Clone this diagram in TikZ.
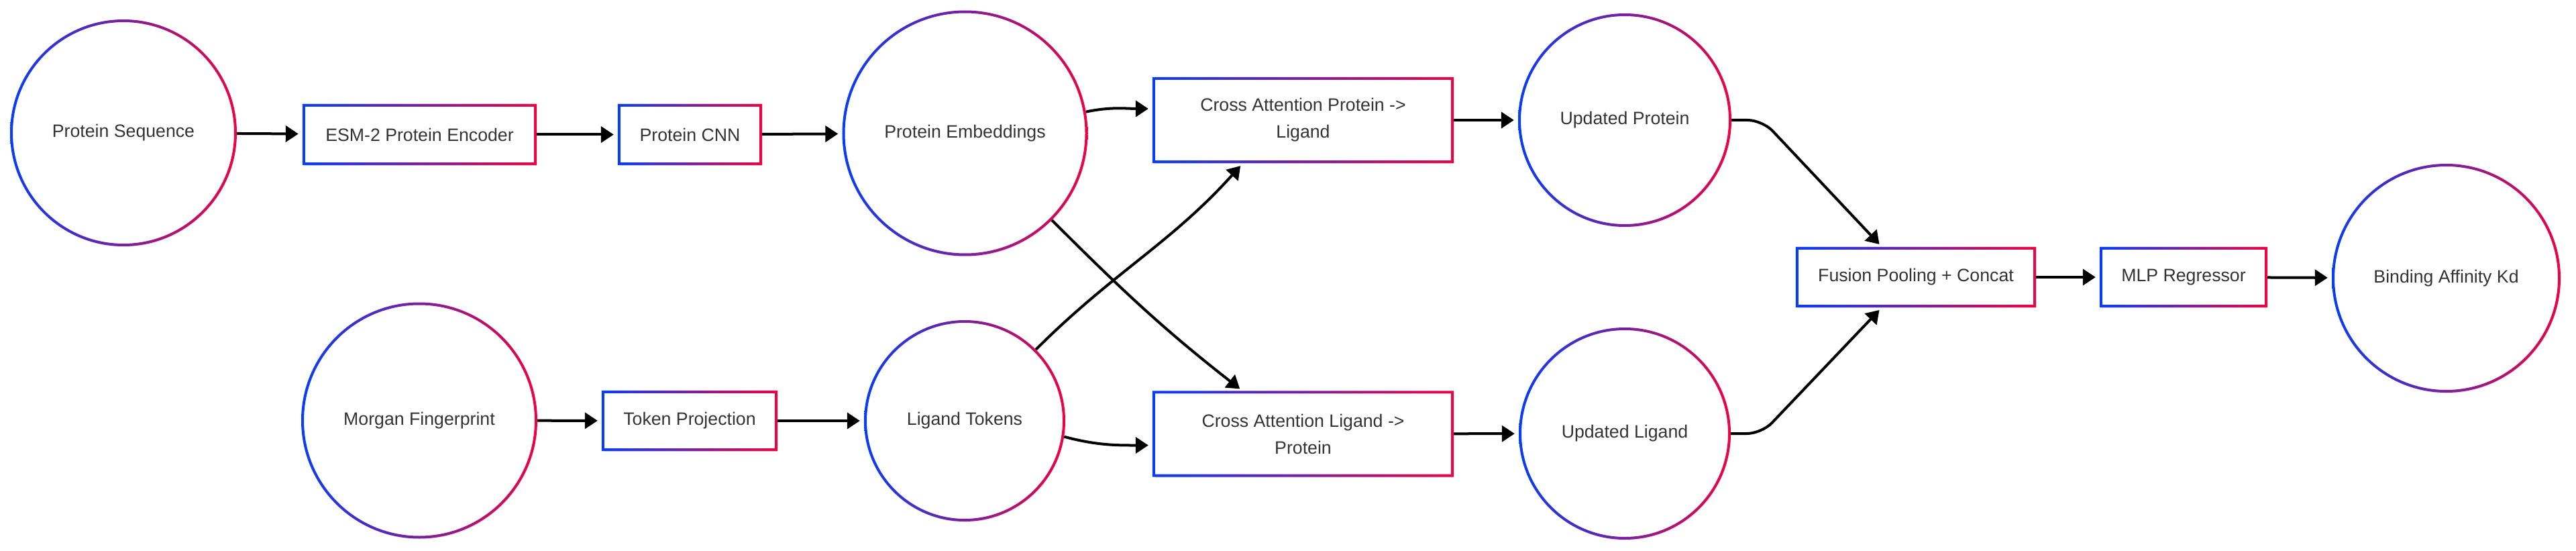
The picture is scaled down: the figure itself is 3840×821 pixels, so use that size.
\documentclass[tikz,border=0pt]{standalone}
\usepackage{fontspec}
\setmainfont{Liberation Sans}
\usetikzlibrary{arrows.meta,shadows,calc}
\definecolor{gblue}{RGB}{8,62,245}
\definecolor{gred}{RGB}{236,4,68}
\definecolor{txt}{RGB}{51,51,51}
\tikzset{
  lbl/.style={text=txt, font=\fontsize{26.7pt}{40pt}\selectfont, align=center, inner sep=0pt, fill=white},
  circnode/.style={lbl, circle, drop shadow={shadow xshift=1.5pt, shadow yshift=-3pt, opacity=0.10, fill=black}},
  boxnode/.style={lbl, rectangle, drop shadow={shadow xshift=1.5pt, shadow yshift=-3pt, opacity=0.10, fill=black}},
  gradring/.style={left color=gblue, right color=gred, even odd rule},
  arr/.style={draw=black, line width=4pt, -{Triangle[length=19pt,width=24pt]}, shorten >=8pt, shorten <=2pt},
}
\newcommand{\ringnode}[5]{%
  \node[circnode, minimum size={2*#4pt}] (#1) at (#2,#3) {#5};
  \shade[gradring] (#1.center) circle[radius=#4pt+2pt] (#1.center) circle[radius=#4pt-2pt];}
\newcommand{\boxnd}[6]{%
  \node[boxnode, minimum width=#4pt, minimum height=#5pt] (#1) at (#2,#3) {#6};
  \shade[gradring] ([shift={(-2pt,2pt)}]#1.north west) rectangle ([shift={(2pt,-2pt)}]#1.south east)
     ([shift={(2pt,-2pt)}]#1.north west) rectangle ([shift={(-2pt,2pt)}]#1.south east);}
\begin{document}
\begin{tikzpicture}[x=1pt,y=1pt]
\useasboundingbox[fill=white] (0,0) rectangle (3840,-821);
% nodes
\ringnode{ps}{184}{-198}{167}{Protein Sequence}
\boxnd{esm}{625.5}{-200.5}{345}{87}{ESM-2 Protein Encoder}
\boxnd{cnn}{1028.5}{-200.5}{211}{87}{Protein CNN}
\ringnode{pe}{1438.5}{-198.5}{181}{Protein Embeddings}
\boxnd{cpl}{1942.5}{-179}{445}{124}{Cross Attention Protein ->\\Ligand}
\ringnode{upr}{2422}{-179}{157}{Updated Protein}
\ringnode{mf}{625}{-626.5}{174}{Morgan Fingerprint}
\boxnd{tp}{1028}{-627}{258}{86}{Token Projection}
\ringnode{lt}{1438}{-627}{148}{Ligand Tokens}
\boxnd{clp}{1942.5}{-646.5}{445}{124}{Cross Attention Ligand ->\\Protein}
\ringnode{ulg}{2422}{-646}{156}{Updated Ligand}
\boxnd{fus}{2856}{-413}{354}{86}{Fusion Pooling + Concat}
\boxnd{mlp}{3255}{-413}{246}{86}{MLP Regressor}
\ringnode{baf}{3646.5}{-414.5}{168.5}{Binding Affinity Kd}
% connectors
\draw[arr] (ps) -- (esm);
\draw[arr] (esm) -- (cnn);
\draw[arr] (cnn) -- (pe);
\draw[arr] (mf) -- (tp);
\draw[arr] (tp) -- (lt);
\draw[arr] (cpl) -- (upr);
\draw[arr] (clp) -- (ulg);
\draw[arr] (fus) -- (mlp);
\draw[arr] (mlp) -- (baf);
\draw[arr] (pe.10) to[out=12,in=180] ([yshift=17pt]cpl.west);
\draw[arr] (lt.-9) to[out=-15,in=180] ([yshift=-17pt]clp.west);
\draw[arr] (lt.45) to[out=45,in=-132] ([xshift=-88pt]cpl.south);
\draw[arr] (pe.-45) to[out=-45,in=142] ([xshift=-88pt]clp.north);
\draw[arr, rounded corners=22pt] (upr.east) -- ([xshift=48pt]upr.east) -- ([xshift=-49pt]fus.north);
\draw[arr, rounded corners=22pt] (ulg.east) -- ([xshift=48pt]ulg.east) -- ([xshift=-49pt]fus.south);
\end{tikzpicture}
\end{document}
